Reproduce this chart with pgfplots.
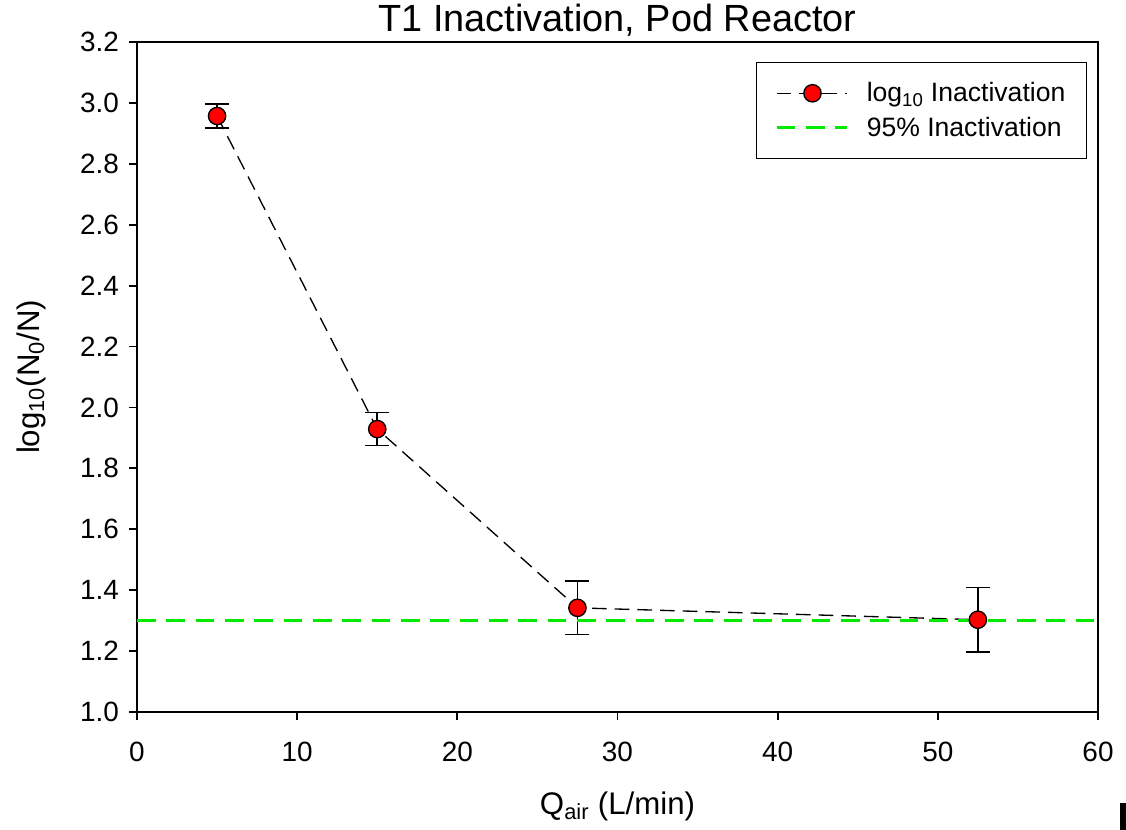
\documentclass[border=0pt]{standalone}
\usepackage{pgfplots}
\pgfplotsset{compat=1.18}
\usepackage{fontspec}
\setmainfont{Liberation Sans}
\begin{document}
\begin{tikzpicture}
\path[use as bounding box] (-102.75bp,-88.5bp) rectangle (741.75bp,534bp);
\begin{axis}[
  scale only axis,
  width=720.75bp, height=502.5bp,
  xmin=0, xmax=60, ymin=1.0, ymax=3.2,
  xtick={0,10,...,60},
  ytick={1.0,1.2,...,3.21},
  tick pos=left, tick align=outside,
  major tick length=6bp,
  axis line style={line width=1.3bp},
  every tick/.style={black, line width=1.3bp},
  /pgf/number format/assume math mode=true,
  yticklabel style={/pgf/number format/fixed,/pgf/number format/fixed zerofill,/pgf/number format/precision=1, font=\fontsize{21}{21}\selectfont, xshift=-4bp},
  xticklabel style={font=\fontsize{21}{21}\selectfont, yshift=-13bp},
  title={T1 Inactivation, Pod Reactor},
  title style={font=\fontsize{28.5}{29}\selectfont, yshift=-5bp},
  xlabel={Q\textsubscript{air} (L/min)},
  xlabel style={font=\fontsize{23.5}{24}\selectfont, yshift=-16bp},
  ylabel={log\textsubscript{10}(N\textsubscript{0}/N)},
  ylabel style={font=\fontsize{23.5}{24}\selectfont, yshift=19bp},
  legend style={at={(rel axis cs:1,1)}, anchor=north east, xshift=-8bp, yshift=-15bp,
    draw=black, line width=1bp, font=\fontsize{20}{23}\selectfont,
    inner xsep=14bp, inner ysep=13bp, row sep=6bp, column sep=12bp, cells={anchor=west}},
  legend image code/.code={
    \draw[#1, mark=none] (0cm,0cm) -- (1.85cm,0cm);
    \path[#1, solid] plot coordinates {(0.95cm,0cm)};
  },
  clip=false,
]
\addplot[black, line width=1bp, dash pattern=on 11bp off 6bp,
  mark=*, mark size=6.5bp, mark options={solid, fill=red, draw=black, line width=1bp},
  error bars/.cd, y dir=both, y explicit,
  error bar style={solid, black, line width=1.2bp},
  error mark options={rotate=90, mark size=9bp, line width=1.2bp, black, solid}]
coordinates {
  (5, 2.957) +- (0, 0.040)
  (15, 1.929) +- (0, 0.054)
  (27.5, 1.342) +- (0, 0.088)
  (52.5, 1.303) +- (0, 0.106)
};
\addlegendentry{log\textsubscript{10} Inactivation}
\addplot[color={rgb,255:red,0;green,235;blue,0}, line width=2.4bp, dash pattern=on 14bp off 8bp, mark=none]
coordinates {(0,1.30) (60,1.30)};
\addlegendentry{95\% Inactivation}
\end{axis}
\fill[black] (737.25bp,-88.5bp) rectangle (741.75bp,-68.25bp);
\end{tikzpicture}
\end{document}
